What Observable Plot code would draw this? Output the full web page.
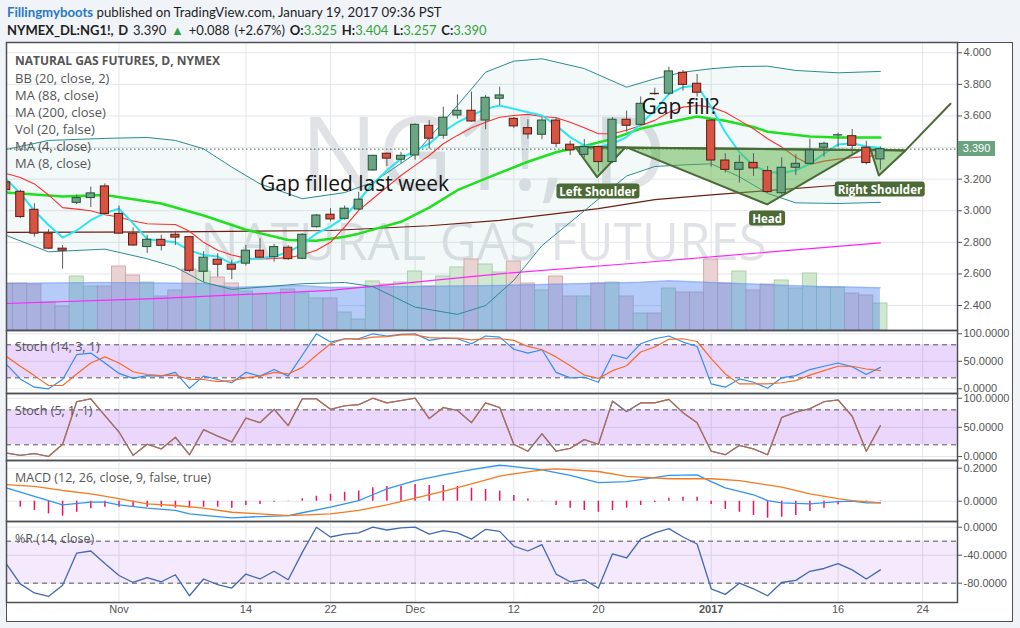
<!DOCTYPE html>
<html><head><meta charset="utf-8">
<script src="https://cdn.jsdelivr.net/npm/d3@7"></script>
<script src="https://cdn.jsdelivr.net/npm/@observablehq/plot@0.6"></script>
<style>
html,body{margin:0;padding:0;background:#f0f3f7;}
#root{position:relative;width:1020px;height:628px;overflow:hidden;background:#f0f3f7;}
.t{position:absolute;white-space:nowrap;}
.hdr{font-family:Lato,"Open Sans",sans-serif;font-size:13.2px;color:#1e1e1e;line-height:16px;left:7px;}
.leg{font-family:"Open Sans",sans-serif;font-size:13px;color:#555;line-height:16px;left:15px;}
.pl{font-family:"Open Sans",sans-serif;font-size:12.5px;color:#555;line-height:16px;left:15px;}
.g{color:#35a33a;}
.wm{font-family:"Open Sans",sans-serif;color:rgba(149,152,161,0.28);text-align:center;width:955px;left:6px;line-height:1;}
.hs{font-family:"Open Sans",sans-serif;font-weight:700;font-size:11.5px;color:#fff;background:#4b6a36;border-radius:3px;padding:0 3px;line-height:15px;transform:translate(-50%,-50%);}
.tag{font-family:"Liberation Sans",Arial,sans-serif;font-size:11px;color:#fff;background:#6aa37f;width:37px;height:15px;line-height:15px;text-align:center;left:958px;}
</style></head><body><div id="root"></div>
<script>
// ---------- DATA ----------
const dates = ["2016-10-20","2016-10-21","2016-10-24","2016-10-25","2016-10-26","2016-10-27","2016-10-28","2016-10-31","2016-11-01","2016-11-02","2016-11-03","2016-11-04","2016-11-07","2016-11-08","2016-11-09","2016-11-10","2016-11-11","2016-11-14","2016-11-15","2016-11-16","2016-11-17","2016-11-18","2016-11-21","2016-11-22","2016-11-23","2016-11-25","2016-11-28","2016-11-29","2016-11-30","2016-12-01","2016-12-02","2016-12-05","2016-12-06","2016-12-07","2016-12-08","2016-12-09","2016-12-12","2016-12-13","2016-12-14","2016-12-15","2016-12-16","2016-12-19","2016-12-20","2016-12-21","2016-12-22","2016-12-23","2016-12-27","2016-12-28","2016-12-29","2016-12-30","2017-01-03","2017-01-04","2017-01-05","2017-01-06","2017-01-09","2017-01-10","2017-01-11","2017-01-12","2017-01-13","2017-01-16","2017-01-17","2017-01-18","2017-01-19"];
const open = [3.18,3.12,3.006,2.855,2.76,3.05,3.08,3.154,2.98,2.855, 2.77,2.816,2.848,2.833,2.614,2.69,2.658,2.665,2.747,2.706, 2.766,2.696,2.896,2.975,2.949,3.008,3.255,3.361,3.323,3.35, 3.538,3.475,3.603,3.633,3.571,3.709,3.582,3.523,3.481,3.571, 3.418,3.354,3.403,3.308,3.576,3.544,3.74,3.741,3.873,3.804, 3.571,3.318,3.259,3.303,3.251,3.111,3.272,3.297,3.399,3.476, 3.472,3.399,3.325];
const high = [3.19,3.13,3.044,2.88,2.78,3.10,3.15,3.17,3.03,2.89, 2.845,2.845,2.87,2.835,2.742,2.728,2.686,2.78,2.823,2.787, 2.78,2.855,2.976,3.013,3.03,3.117,3.35,3.365,3.37,3.55, 3.57,3.656,3.734,3.751,3.73,3.782,3.59,3.576,3.59,3.59, 3.44,3.451,3.41,3.59,3.631,3.72,3.776,3.909,3.888,3.863, 3.575,3.361,3.35,3.361,3.28,3.335,3.354,3.453,3.434,3.491, 3.514,3.439,3.404];
const low = [3.12,2.95,2.833,2.755,2.63,3.04,3.02,2.975,2.85,2.775, 2.73,2.745,2.78,2.61,2.548,2.58,2.564,2.65,2.70,2.675, 2.685,2.69,2.89,2.93,2.94,3.0,3.25,3.28,3.30,3.32, 3.39,3.453,3.58,3.56,3.513,3.666,3.52,3.453,3.45,3.40, 3.35,3.335,3.244,3.30,3.497,3.54,3.73,3.73,3.757,3.72, 3.276,3.238,3.175,3.217,3.11,3.10,3.223,3.29,3.339,3.399, 3.361,3.29,3.257];
const close = [3.13,2.96,2.855,2.76,2.747,3.08,3.11,2.98,2.855,2.78, 2.816,2.778,2.83,2.62,2.703,2.658,2.627,2.747,2.703,2.77, 2.694,2.848,2.97,2.945,3.013,3.07,3.348,3.33,3.348,3.544, 3.456,3.589,3.633,3.565,3.715,3.73,3.534,3.483,3.571,3.424, 3.382,3.403,3.308,3.576,3.538,3.677,3.738,3.882,3.797,3.747, 3.318,3.259,3.303,3.268,3.118,3.272,3.297,3.382,3.424,3.478, 3.411,3.302,3.39];
const volume = [282,282,276,168,144,324,264,264,384,330, 288,204,240,366,354,318,282,234,216,216, 246,222,192,192,108,66,294,276,288,354, 264,324,378,426,396,348,414,282,240,324, 204,204,282,288,204,102,102,252,228,228, 426,282,354,240,276,300,252,342,258,258, 222,210,162];
const volMaBar = [0,7,14,16,21,23,35,45,47,50,57,62];
const volMaVal = [282,288,282,258,270,258,270,290,298,288,266,256];
const ma4 = [3.20,3.11,3.00,2.91,2.83,2.875,2.94,2.985,3.013,2.92, 2.82,2.81,2.80,2.749,2.72,2.71,2.665,2.69,2.70,2.71, 2.738,2.787,2.856,2.90,2.96,3.065,3.17,3.255,3.33,3.382, 3.424,3.50,3.56,3.603,3.645,3.666,3.645,3.624,3.603,3.54, 3.466,3.413,3.403,3.424,3.466,3.551,3.635,3.74,3.782,3.793, 3.656,3.497,3.371,3.287,3.244,3.24,3.255,3.297,3.361,3.42, 3.428,3.407,3.399];
const ma8 = [3.236,3.21,3.17,3.10,3.02,3.01,3.00,2.975,2.96,2.935, 2.918,2.915,2.913,2.87,2.80,2.75,2.72,2.70,2.695,2.698, 2.703,2.72,2.75,2.80,2.896,3.002,3.076,3.15,3.223,3.287, 3.35,3.424,3.477,3.525,3.56,3.592,3.603,3.61,3.597,3.589, 3.56,3.525,3.487,3.487,3.51,3.54,3.572,3.624,3.656,3.666, 3.656,3.624,3.572,3.519,3.456,3.403,3.339,3.293,3.314,3.327, 3.335,3.344,3.35];
const ma88Bar = [0,4,7,11,14,17,20,22,24,25,28,30,32,35,37,39,41,43,45,47,49,51,53,54,57,59,62];
const ma88Val = [3.116,3.09,3.10,3.046,2.97,2.88,2.815,2.81,2.835,2.855,2.93,3.02,3.13,3.24,3.31,3.37,3.41,3.455,3.52,3.56,3.597,3.57,3.53,3.50,3.47,3.464,3.464];
const ma200Bar = [0,12,23,30,35,42,46,50,54,58,62];
const ma200Val = [2.863,2.866,2.875,2.905,2.939,3.013,3.07,3.10,3.128,3.155,3.179];
const magBar = [0,11,23,35,45,62];
const magVal = [2.413,2.445,2.496,2.601,2.671,2.797];
const bbBar = [0,3,7,10,12,14,16,18,21,24,26,29,32,34,36,38,41,44,46,48,50,52,54,56,59,62];
const bbUpper = [3.388,3.445,3.458,3.464,3.445,3.392,3.276,3.17,3.076,3.115,3.18,3.36,3.666,3.877,3.947,3.962,3.90,3.782,3.835,3.877,3.899,3.913,3.915,3.888,3.873,3.882];
const bbLower = [2.844,2.74,2.757,2.696,2.643,2.548,2.502,2.516,2.538,2.546,2.52,2.39,2.344,2.40,2.56,2.78,3.00,3.22,3.28,3.29,3.297,3.215,3.11,3.05,3.046,3.053];
const stochK = [45,18,3,0,17,62,65,47,28,19, 24,23,30,1,23,17,11,30,23,35, 23,61,100,85,91,91,100,96,99,100, 88,92,91,82,96,94,72,65,71,30, 20,21,12,62,55,82,91,96,85,77, 9,3,18,12,1,20,24,35,41,47, 40,26,39];
const stochD = [59,41,24,6,6,27,47,58,47,31, 26,24,25,17,17,13,15,20,23,30, 27,39,61,82,91,90,94,95,98,98, 93,92,92,89,91,91,88,77,71,58, 42,25,19,33,42,67,76,90,91,86, 55,27,9,9,9,11,15,25,33,41, 41,36,33];
const stochFast = [6,2,5,0,21,94,99,70,42,2, 21,13,33,3,46,35,25,66,58,81, 53,99,99,81,87,89,100,92,96,100, 65,84,79,58,92,84,21,9,39,9, 14,29,21,95,77,92,92,98,75,58, 9,3,19,13,3,67,76,82,94,97, 69,9,53];
const macdBar = [0,4,6,7,8,10,12,13,15,16,18,20,21,23,25,26,27,29,31,33,35,36,38,40,42,44,45,47,49,50,51,53,54,55,57,59,60,61,62];
const macdVal = [0.081,-0.022,-0.006,-0.006,-0.022,-0.042,-0.056,-0.077,-0.093,-0.101,-0.093,-0.087,-0.07,-0.036,0.004,0.039,0.075,0.125,0.16,0.192,0.218,0.21,0.19,0.156,0.112,0.119,0.131,0.156,0.16,0.119,0.081,0.039,0.004,-0.01,-0.016,-0.002,0.0,-0.01,-0.01];
const signalBar = [0,2,4,6,8,10,12,14,16,18,20,23,25,27,29,31,33,35,36,38,39,42,44,47,50,52,55,57,59,60,62];
const signalVal = [0.10,0.09,0.065,0.045,0.015,-0.016,-0.026,-0.042,-0.067,-0.077,-0.087,-0.077,-0.056,-0.022,0.018,0.059,0.105,0.152,0.166,0.19,0.196,0.18,0.15,0.136,0.136,0.125,0.085,0.045,0.015,0.004,-0.01];
const macdHist = [-0.02,-0.036,-0.056,-0.077,-0.091,-0.067,-0.046,-0.036,-0.036,-0.032, -0.036,-0.036,-0.042,-0.042,-0.036,-0.036,-0.042,-0.026,-0.02,-0.006, -0.002,0.015,0.03,0.042,0.054,0.062,0.081,0.089,0.091,0.101, 0.095,0.095,0.089,0.079,0.071,0.061,0.035,0.014,0.002,-0.026, -0.042,-0.056,-0.067,-0.056,-0.042,-0.026,-0.008,0.018,0.024,0.024, -0.02,-0.05,-0.067,-0.087,-0.103,-0.097,-0.087,-0.063,-0.042,-0.022, -0.008,-0.003,-0.002];
const willR = [-52,-81,-94,-99,-83,-37,-34,-52,-69,-79, -72,-78,-68,-98,-74,-82,-87,-67,-74,-63, -75,-36,0,-14,-10,-8,0,-4,-1,0, -10,-5,-8,-17,-3,-6,-27,-34,-25,-67, -78,-75,-87,-38,-44,-17,-8,-2,-14,-24, -88,-96,-80,-88,-98,-79,-76,-63,-59,-52, -61,-74,-61];
const xTickBar = [8,17,23,29,36,42,50,59,65];
const xTickLabel = ["Nov","14","22","Dec","12","20","2017","16","24"];
const priceTicks = [2.4,2.6,2.8,3.0,3.2,3.4,3.6,3.8,4.0];
const stochTicks = [0,50,100];
const macdTicks = [0,0.2];
const willTicks = [0,-40,-80];
// annotations (bar position, price)
const hsBar = [40.38,41.91,43.92,40.38, 44.04,53.97,60.59,44.04, 61.3,61.89,63.78,61.3];
const hsPrice = [3.402,3.213,3.402,3.402, 3.40,3.04,3.385,3.40, 3.39,3.223,3.382,3.39];
const hsShape = ["L","L","L","L","H","H","H","H","R","R","R","R"];
const neckBar = [40.38,63.78,66.97];
const neckPrice = [3.402,3.382,3.677];
const hsLabelText = ["Left Shoulder","Head","Right Shoulder"];
const hsLabelBar = [42.0,54.0,62.0];
const hsLabelPrice = [3.125,2.954,3.135];
const noteText = ["Gap filled last week","Gap fill?"];
const noteBar = [18.0,45.06];
const notePrice = [3.166,3.652];

// ---------- TABLES ----------
const bars = dates.map((d,i)=>({i, date:d, o:open[i], h:high[i], l:low[i], c:close[i], v:volume[i], up: close[i]>=open[i]}));
const rows = (xs, ys) => xs.map((x,k)=>({i:x, v:ys[k]}));
const idx = dates.map((d,i)=>i);
const ma4Rows = rows(idx, ma4), ma8Rows = rows(idx, ma8);
const ma88Rows = rows(ma88Bar, ma88Val), ma200Rows = rows(ma200Bar, ma200Val), magRows = rows(magBar, magVal);
const bbRows = bbBar.map((b,k)=>({i:b, hi:bbUpper[k], lo:bbLower[k]}));
const volMaRows = rows(volMaBar, volMaVal);
const stochRows = idx.map(i=>({i, k:stochK[i], d:stochD[i], f:stochFast[i], h:macdHist[i], r:willR[i]}));
const macdRows = rows(macdBar, macdVal), signalRows = rows(signalBar, signalVal);
const hsRows = hsBar.map((b,k)=>({i:b, p:hsPrice[k], shape:hsShape[k]}));
const neckRows = neckBar.map((b,k)=>({i:b, p:neckPrice[k]}));
const notes = noteText.map((t,k)=>({text:t, i:noteBar[k], p:notePrice[k]}));
const xTicks = xTickBar.map((b,k)=>({i:b, label:xTickLabel[k], bold:xTickLabel[k]==="2017"}));
const lastClose = close[close.length-1];

// ---------- LAYOUT ----------
const root = document.getElementById("root");
const xDom = [0.0213, 67.468];
const PANE = {width:1006, marginLeft:0, marginRight:55, marginTop:0, marginBottom:0};
const X = {domain:xDom, axis:null};
const gridC = "#e3e6ea", frameC = "#4f5157";
const st = {background:"transparent", overflow:"visible", fontFamily:"'Liberation Sans', Arial, sans-serif", fontSize:"11px", color:"#555"};
function mount(svg, top){ svg.style.position="absolute"; svg.style.left="6px"; svg.style.top=top+"px"; root.appendChild(svg); return svg; }
function div(cls, html, top, extra){ const e=document.createElement("div"); e.className="t "+cls; e.innerHTML=html; e.style.top=top+"px"; if(extra) Object.assign(e.style, extra); root.appendChild(e); return e; }

// chart background
const bg = document.createElement("div");
Object.assign(bg.style,{position:"absolute",left:"6px",top:"42px",width:"1006px",height:"579px",background:"#fff"});
root.appendChild(bg);

// watermark
div("wm", "NG1!, D", 98.5, {fontSize:"103px"});
div("wm", "NATURAL GAS FUTURES", 214.7, {fontSize:"51px"});

const mainY = {domain:[2.242, 4.065], axis:null, label:null};

// layer A: grid, BB fill, price axis
mount(Plot.plot({...PANE, height:288, x:X, y:mainY, style:st, marks:[
  Plot.ruleX(xTickBar, {stroke:gridC}),
  Plot.ruleY(priceTicks, {stroke:gridC}),
  Plot.areaY(bbRows, {x:"i", y1:"lo", y2:"hi", fill:"#3a9a9a", fillOpacity:0.06, clip:true}),
  Plot.axisY(priceTicks, {anchor:"right", tickSize:4, tickPadding:2, tickFormat:d=>d.toFixed(3), label:null})
]}), 42);

// layer B: volume
mount(Plot.plot({...PANE, height:288, x:X, y:{domain:[0,1728], axis:null, label:null}, style:st, marks:[
  Plot.rect(bars, {x1:d=>d.i-0.5, x2:d=>d.i+0.5, y1:0, y2:"v", fill:d=>d.up?"#d0e8d0":"#ead2d2", stroke:d=>d.up?"#9cc79c":"#c7a0a0", strokeWidth:0.8, clip:true}),
  Plot.areaY(volMaRows, {x:"i", y:"v", fill:"#5b8bf0", fillOpacity:0.45, clip:true}),
  Plot.line(volMaRows, {x:"i", y:"v", stroke:"#5b8bf0", strokeOpacity:0.35, clip:true})
]}), 42);

// layer D: indicators, drawings, candles
const layerD = mount(Plot.plot({...PANE, height:288, x:X, y:mainY, style:st, marks:[
  Plot.line(magRows, {x:"i", y:"v", stroke:"#ff22ff", strokeWidth:1.2, clip:true}),
  Plot.line(ma200Rows, {x:"i", y:"v", stroke:"#6d1f12", strokeWidth:1.2, clip:true}),
  Plot.line(bbRows, {x:"i", y:"hi", stroke:"#2b8c91", strokeWidth:1, clip:true}),
  Plot.line(bbRows, {x:"i", y:"lo", stroke:"#2b8c91", strokeWidth:1, clip:true}),
  Plot.line(ma88Rows, {x:"i", y:"v", stroke:"#1fe01f", strokeWidth:2.5, clip:true}),
  Plot.line(ma8Rows, {x:"i", y:"v", stroke:"#ff2e2e", strokeWidth:1.1, clip:true}),
  Plot.line(ma4Rows, {x:"i", y:"v", stroke:"#2be6f2", strokeWidth:2, clip:true}),
  Plot.ruleY([lastClose], {stroke:"#2f6e55", strokeDasharray:"1.5,2.5"}),
  Plot.line(hsRows, {x:"i", y:"p", z:"shape", fill:"rgb(92,178,70)", fillOpacity:0.5, stroke:"#4a6b36", strokeWidth:2}),
  Plot.line(neckRows, {x:"i", y:"p", stroke:"#4a6b36", strokeWidth:2}),
  Plot.ruleX(bars, {x:"i", y1:"l", y2:"h", stroke:"#5c5c5c", clip:true}),
  Plot.rect(bars, {x1:d=>d.i-0.29, x2:d=>d.i+0.29, y1:"o", y2:"c", fill:d=>d.up?"#6ba583":"#d75442", stroke:d=>d.up?"#225437":"#5b1a13", strokeWidth:1, clip:true}),
  Plot.text(notes, {x:"i", y:"p", text:"text", textAnchor:"start", fontSize:21, fill:"#141414", fontFamily:"'Open Sans', sans-serif"}),
  Plot.frame({stroke:frameC, strokeWidth:1.5})
]}), 42);

// Stoch (14,3,1)
mount(Plot.plot({...PANE, height:63, x:X, y:{domain:[-8.5,106], axis:null, label:null}, style:st, marks:[
  Plot.ruleX(xTickBar, {stroke:gridC}),
  Plot.ruleY(stochTicks, {stroke:gridC}),
  Plot.rect([{lo:20, hi:80}], {x1:xDom[0], x2:xDom[1], y1:"lo", y2:"hi", fill:"rgb(150,40,240)", fillOpacity:0.19}),
  Plot.ruleY([20,80], {stroke:"#555", strokeDasharray:"5,4"}),
  Plot.line(stochRows, {x:"i", y:"k", stroke:"#2f8fef", strokeWidth:1.2, clip:true}),
  Plot.line(stochRows, {x:"i", y:"d", stroke:"#f46c2a", strokeWidth:1.2, clip:true}),
  Plot.axisY(stochTicks, {anchor:"right", tickSize:4, tickPadding:2, tickFormat:d=>d.toFixed(4), label:null}),
  Plot.frame({stroke:frameC, strokeWidth:1.5})
]}), 330);

// Stoch (5,1,1)
mount(Plot.plot({...PANE, height:67, x:X, y:{domain:[-6.9,108.1], axis:null, label:null}, style:st, marks:[
  Plot.ruleX(xTickBar, {stroke:gridC}),
  Plot.ruleY(stochTicks, {stroke:gridC}),
  Plot.rect([{lo:20, hi:80}], {x1:xDom[0], x2:xDom[1], y1:"lo", y2:"hi", fill:"rgb(150,40,240)", fillOpacity:0.19}),
  Plot.ruleY([20,80], {stroke:"#555", strokeDasharray:"5,4"}),
  Plot.line(stochRows, {x:"i", y:"f", stroke:"#2f8fef", strokeWidth:1.3, clip:true}),
  Plot.line(stochRows, {x:"i", y:"f", stroke:"#d0642f", strokeWidth:1.1, clip:true}),
  Plot.axisY(stochTicks, {anchor:"right", tickSize:4, tickPadding:2, tickFormat:d=>d.toFixed(4), label:null}),
  Plot.frame({stroke:frameC, strokeWidth:1.5})
]}), 393);

// MACD
mount(Plot.plot({...PANE, height:61, x:X, y:{domain:[-0.123,0.2467], axis:null, label:null}, style:st, marks:[
  Plot.ruleX(xTickBar, {stroke:gridC}),
  Plot.ruleY(macdTicks, {stroke:gridC}),
  Plot.ruleX(stochRows, {x:"i", y1:0, y2:"h", stroke:"#f0125e", strokeWidth:1.5, clip:true}),
  Plot.line(macdRows, {x:"i", y:"v", stroke:"#2f95f0", strokeWidth:1.3, clip:true}),
  Plot.line(signalRows, {x:"i", y:"v", stroke:"#f57a1f", strokeWidth:1.3, clip:true}),
  Plot.axisY(macdTicks, {anchor:"right", tickSize:4, tickPadding:2, tickFormat:d=>d.toFixed(4), label:null}),
  Plot.frame({stroke:frameC, strokeWidth:1.5})
]}), 460);

// %R + x axis
mount(Plot.plot({...PANE, height:100, marginBottom:19, x:X, y:{domain:[-107.6,8.14], axis:null, label:null}, style:st, marks:[
  Plot.ruleX(xTickBar, {stroke:gridC}),
  Plot.ruleY(willTicks, {stroke:gridC}),
  Plot.rect([{lo:-80, hi:-20}], {x1:xDom[0], x2:xDom[1], y1:"lo", y2:"hi", fill:"rgb(150,40,240)", fillOpacity:0.1}),
  Plot.ruleY([-20,-80], {stroke:"#555", strokeDasharray:"5,4"}),
  Plot.line(stochRows, {x:"i", y:"r", stroke:"#4169b5", strokeWidth:1.3, clip:true}),
  Plot.axisY(willTicks, {anchor:"right", tickSize:4, tickPadding:2, tickFormat:d=>d.toFixed(4), label:null}),
  Plot.text(xTicks.filter(d=>!d.bold), {x:"i", text:"label", frameAnchor:"bottom", dy:10, fill:"#555"}),
  Plot.text(xTicks.filter(d=>d.bold), {x:"i", text:"label", frameAnchor:"bottom", dy:10, fill:"#555", fontWeight:"bold"}),
  Plot.frame({stroke:frameC, strokeWidth:1.5})
]}), 521);

// header
div("hdr", '<span style="color:#2a78c0;font-weight:700">Fillingmyboots</span> published on TradingView.com, January 19, 2017 09:36 PST', 3.7);
div("hdr", '<b>NYMEX_DL:NG1!, D</b> 3.390 <span style="color:#2ea043">&#9650;</span> +0.088 (+2.67%) <b>O:</b><span class="g">3.325</span> <b>H:</b><span class="g">3.404</span> <b>L:</b><span class="g">3.257</span> <b>C:</b><span class="g">3.390</span>', 22, {fontSize:"13px", wordSpacing:"1.5px"});

// legends
div("leg", "NATURAL GAS FUTURES, D, NYMEX", 52.7, {fontWeight:"700", fontSize:"12px"});
["BB (20, close, 2)","MA (88, close)","MA (200, close)","Vol (20, false)","MA (4, close)","MA (8, close)"].forEach((t,k)=>div("leg", t, 69.7+17*k));
div("pl", "Stoch (14, 3, 1)", 338.7);
div("pl", "Stoch (5, 1, 1)", 403);
div("pl", "MACD (12, 26, close, 9, false, true)", 470.3);
div("pl", "%R (14, close)", 531);

// scale-positioned labels
const sx = layerD.scale("x"), sy = layerD.scale("y");
div("tag", lastClose.toFixed(3), 42 + sy.apply(lastClose) - 7.5);
hsLabelText.forEach((t,k)=>{
  div("hs", t, 42 + sy.apply(hsLabelPrice[k]), {left:(6 + sx.apply(hsLabelBar[k]))+"px"});
});

// outer border
const fr = document.createElement("div");
Object.assign(fr.style,{position:"absolute",left:"6px",top:"42px",width:"1007px",height:"580px",border:"1px solid "+frameC,boxSizing:"border-box",pointerEvents:"none"});
root.appendChild(fr);
</script></body></html>
